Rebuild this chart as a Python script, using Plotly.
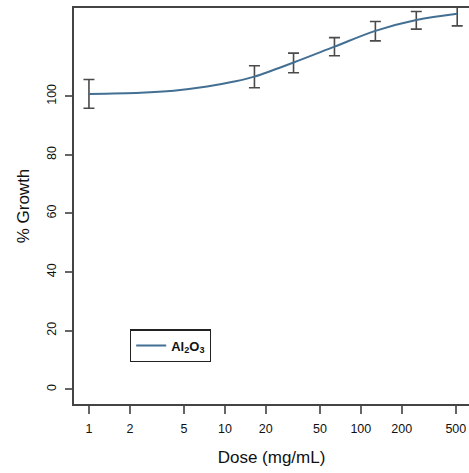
import plotly.graph_objects as go

# Data
doses = [1, 16.5, 32, 64, 128, 256, 512]
growth_mean = [100.8, 106.65, 111.35, 116.9, 122.2, 125.9, 128.1]
growth_err = [4.9, 3.75, 3.35, 3.1, 3.3, 3.0, 4.1]

curve_dose = [1, 2.4, 4.2, 7.4, 11.7, 16.5, 32, 64, 128, 256, 512]
curve_growth = [100.8, 101.2, 101.9, 103.3, 105.0, 106.7, 111.5, 116.9, 122.3, 126.0, 128.1]

x_tick_vals = [1, 2, 5, 10, 20, 50, 100, 200, 500]
x_tick_text = ["1", "2", "5", "10", "20", "50", "100", "200", "500"]
y_tick_vals = [0, 20, 40, 60, 80, 100]
y_tick_text = ["0", "20", "40", "60", "80", "100"]

font_family = "Liberation Sans, Arial, Helvetica, sans-serif"
axis_col = "#444444"

fig = go.Figure()

fig.add_trace(go.Scatter(
    x=doses, y=growth_mean, mode="markers",
    marker=dict(size=1, color="rgba(0,0,0,0)"),
    error_y=dict(type="data", array=growth_err, visible=True,
                 color="#4a4a4a", thickness=1.6, width=5.5),
    showlegend=False, hoverinfo="skip",
))

fig.add_trace(go.Scatter(
    x=curve_dose, y=curve_growth, mode="lines",
    line=dict(color="#436f93", width=2, shape="spline"),
    name="<b>Al<sub>2</sub>O<sub>3</sub></b>",
))

fig.update_layout(
    width=469, height=473,
    margin=dict(l=74, r=0, t=8, b=69),
    paper_bgcolor="white", plot_bgcolor="white",
    font=dict(family=font_family, size=12, color="#111111"),
    showlegend=True,
    legend=dict(
        x=(130 - 74) / 395, y=(404 - 329.3) / 396,
        xanchor="left", yanchor="top",
        bordercolor="#222222", borderwidth=1.2,
        bgcolor="white",
        font=dict(size=13, family=font_family, color="#111111"),
        itemwidth=30,
    ),
)

fig.update_xaxes(
    type="log", range=[-0.110, 2.796],
    tickvals=x_tick_vals, ticktext=x_tick_text,
    ticks="outside", ticklen=8, tickwidth=1.5, tickcolor="#666666",
    showline=True, linecolor=axis_col, linewidth=1.5, mirror=True,
    showgrid=False, zeroline=False,
    tickfont=dict(size=12.5),
    ticklabelstandoff=4,
    title=dict(text="Dose (mg/mL)", font=dict(size=17), standoff=16),
)

fig.update_yaxes(
    range=[-5.0, 130.1],
    tickvals=y_tick_vals, ticktext=y_tick_text,
    tickangle=-90,
    ticks="outside", ticklen=7, tickwidth=1.5, tickcolor="#666666",
    showline=True, linecolor=axis_col, linewidth=1.5, mirror=False,
    showgrid=False, zeroline=False,
    tickfont=dict(size=12.5),
    ticklabelstandoff=4,
    title=dict(text="% Growth", font=dict(size=17), standoff=11),
)

fig.write_html("out.html")
